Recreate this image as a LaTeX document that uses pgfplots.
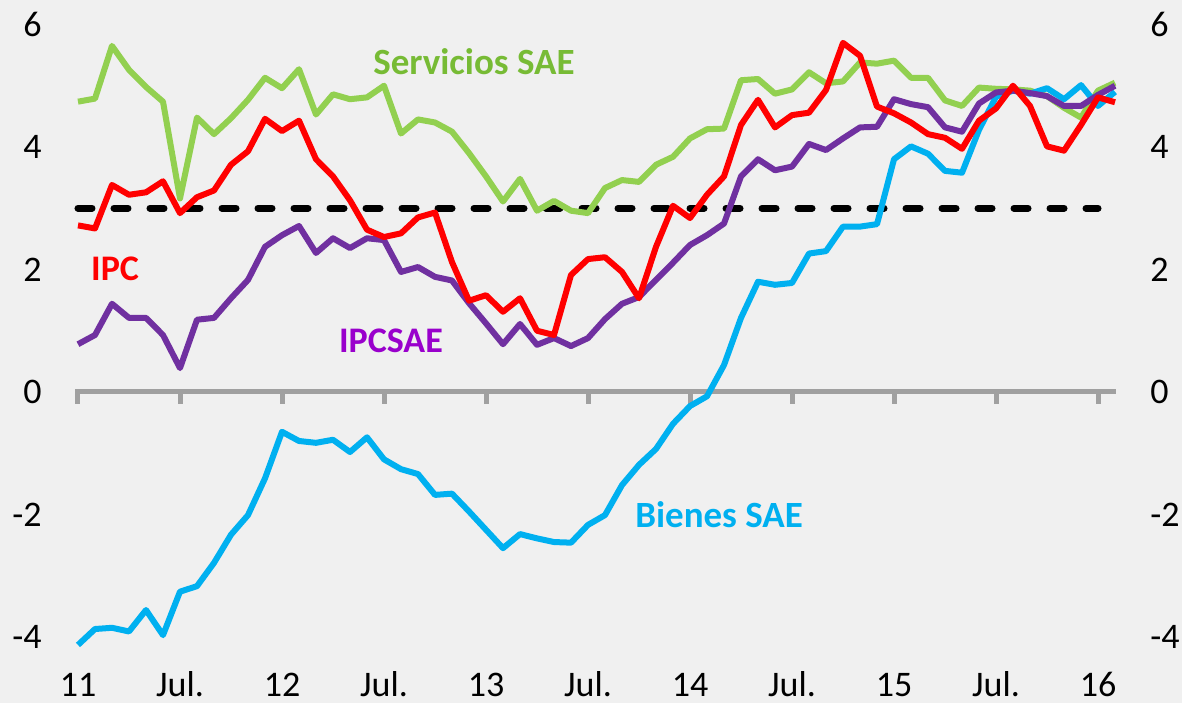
\documentclass[border=0pt]{standalone}
\usepackage{fontspec}
\setmainfont{Carlito}
\usepackage{pgfplots}
\usepackage{pgfplotstable}
\pgfplotsset{compat=1.18}
\definecolor{bg}{HTML}{F0F0F0}
\definecolor{cgreen}{HTML}{92D050}
\definecolor{cgreentxt}{HTML}{77BB35}
\definecolor{cred}{HTML}{FF0000}
\definecolor{cpurple}{HTML}{7030A0}
\definecolor{cpurpletxt}{HTML}{9900CC}
\definecolor{cblue}{HTML}{00B0F0}
\definecolor{caxis}{HTML}{A0A0A0}
\pgfplotstableread{
m g r p b
0 4.74 2.72 0.78 -4.13
1 4.79 2.67 0.93 -3.87
2 5.65 3.38 1.44 -3.85
3 5.26 3.22 1.21 -3.91
4 4.98 3.26 1.21 -3.56
5 4.74 3.44 0.93 -3.97
6 3.16 2.92 0.39 -3.26
7 4.48 3.18 1.18 -3.17
8 4.21 3.29 1.21 -2.79
9 4.47 3.71 1.53 -2.33
10 4.77 3.93 1.83 -2.01
11 5.13 4.46 2.37 -1.41
12 4.96 4.26 2.56 -0.65
13 5.27 4.43 2.71 -0.80
14 4.53 3.80 2.27 -0.83
15 4.86 3.52 2.51 -0.78
16 4.78 3.13 2.35 -0.98
17 4.81 2.65 2.51 -0.74
18 5.00 2.53 2.48 -1.10
19 4.22 2.59 1.96 -1.26
20 4.45 2.85 2.04 -1.34
21 4.40 2.93 1.88 -1.68
22 4.25 2.12 1.82 -1.66
23 3.90 1.49 1.45 -1.95
24 3.52 1.58 1.12 -2.25
25 3.11 1.31 0.78 -2.55
26 3.48 1.53 1.11 -2.32
27 2.96 1.00 0.77 -2.39
28 3.12 0.93 0.88 -2.45
29 2.96 1.91 0.75 -2.46
30 2.92 2.17 0.88 -2.17
31 3.33 2.20 1.19 -2.01
32 3.46 1.96 1.44 -1.52
33 3.43 1.53 1.55 -1.19
34 3.71 2.37 1.83 -0.93
35 3.84 3.04 2.11 -0.52
36 4.14 2.84 2.40 -0.23
37 4.29 3.22 2.56 -0.07
38 4.30 3.52 2.75 0.44
39 5.09 4.36 3.52 1.21
40 5.11 4.77 3.80 1.80
41 4.87 4.32 3.62 1.75
42 4.94 4.52 3.68 1.78
43 5.22 4.56 4.05 2.26
44 5.04 4.93 3.95 2.30
45 5.07 5.70 4.14 2.70
46 5.38 5.49 4.32 2.70
47 5.36 4.66 4.33 2.74
48 5.41 4.55 4.78 3.80
49 5.13 4.40 4.70 4.01
50 5.13 4.21 4.65 3.89
51 4.76 4.15 4.32 3.61
52 4.67 3.97 4.25 3.58
53 4.97 4.43 4.71 4.28
54 4.95 4.63 4.89 4.82
55 4.94 5.00 4.92 4.92
56 4.92 4.67 4.88 4.87
57 4.83 4.01 4.83 4.96
58 4.64 3.94 4.67 4.78
59 4.48 4.36 4.67 5.01
60 4.92 4.81 4.85 4.67
61 5.05 4.73 5.00 4.90
}\datatable
\begin{document}
\fontsize{18}{21}\selectfont
\begin{tikzpicture}
\pgfplotsset{
  common/.style={
    x=8.5pt, y=30.625pt,
    xmin=-4.588, xmax=64.941, ymin=-5.0776, ymax=6.4,
    axis line style={draw=none},
    tick style={draw=none},
    major tick length=0pt,
    ytick={-4,-2,0,2,4,6},
    yticklabels={-4,-2,0,2,4,6},
    every tick label/.append style={font=\fontsize{18}{21}\selectfont},
  }
}
\begin{axis}[
  common,
  axis background/.style={fill=bg},
  clip=false,
  xtick={0,6,12,18,24,30,36,42,48,54,60},
  xticklabels={11,Jul.,12,Jul.,13,Jul.,14,Jul.,15,Jul.,16},
  xticklabel style={anchor=base, inner sep=0pt, yshift=3pt},
  yticklabel pos=left,
  yticklabel style={anchor=east, inner sep=0pt, xshift=21pt},
  line join=round,
]
% zero axis line with ticks
\draw[caxis, line width=2.5pt] (axis cs:-0.15,0) -- (axis cs:61.05,0);
\pgfplotsinvokeforeach{0,6,12,18,24,30,36,42,48,54,60}{
  \draw[caxis, line width=2.5pt] (axis cs:#1,0) -- ++(0pt,-6pt);
}
% target line
\addplot[black, line width=3.5pt, line cap=round, dash pattern=on 7pt off 11pt] coordinates {(0,3) (60,3)};
\addplot[cgreen, line width=3pt] table[x=m, y=g] {\datatable};
\addplot[cblue, line width=3pt] table[x=m, y=b] {\datatable};
\addplot[cpurple, line width=3pt] table[x=m, y=p] {\datatable};
\addplot[cred, line width=3pt] table[x=m, y=r] {\datatable};
\node[font=\fontsize{18.5}{21}\selectfont\bfseries, text=cgreentxt, inner sep=0pt] at (axis cs:23.29,5.40) {Servicios SAE};
\node[font=\fontsize{18}{21}\selectfont\bfseries, text=cred, inner sep=0pt] at (axis cs:2.18,2.01) {IPC};
\node[font=\fontsize{18}{21}\selectfont\bfseries, text=cpurpletxt, inner sep=0pt] at (axis cs:18.41,0.83) {IPCSAE};
\node[font=\fontsize{18.5}{21}\selectfont\bfseries, text=cblue, inner sep=0pt] at (axis cs:37.71,-2.01) {Bienes SAE};
\end{axis}
\begin{axis}[
  common,
  xtick=\empty,
  yticklabel pos=right,
  yticklabel style={anchor=west, inner sep=0pt, xshift=-16pt},
]
\end{axis}
\end{tikzpicture}
\end{document}
